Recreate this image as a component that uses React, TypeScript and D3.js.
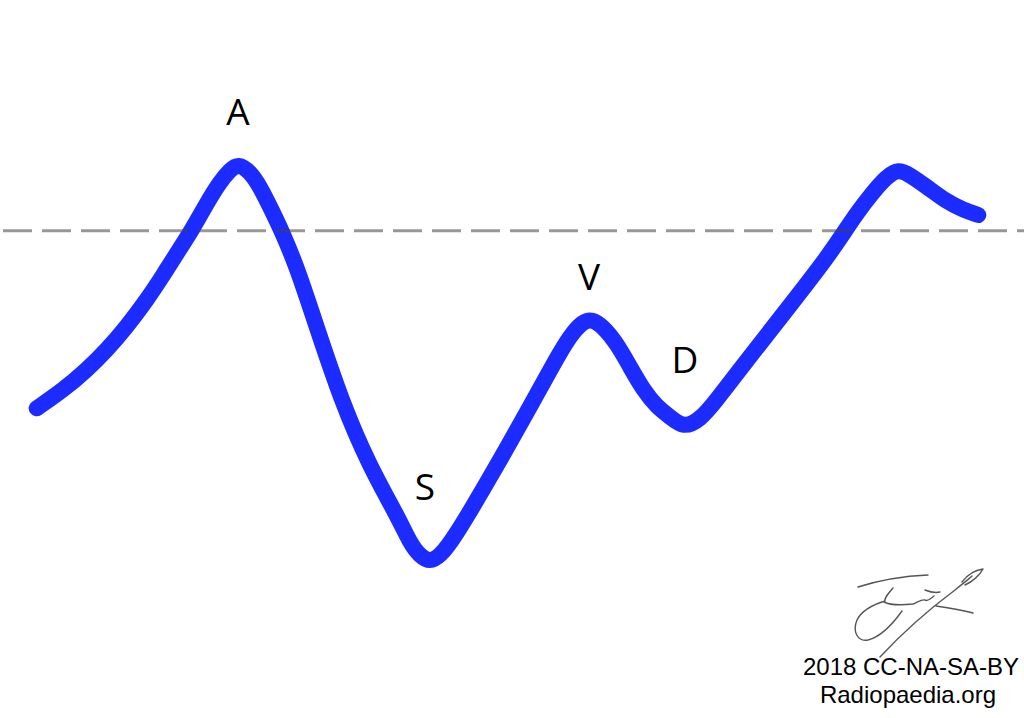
import React from "react";
import * as d3 from "d3";

const times = [3.67, 6.33, 8.67, 10.67, 12.67, 14.67, 16.33, 18, 19.17, 20.67, 22, 23, 23.83, 25, 26, 27, 28.17, 29.67, 31.33, 34.2, 37, 39.8, 41, 42, 43, 44, 45.3, 48.7, 53, 56.1, 57.33, 58.33, 59.17, 60.33, 61.67, 63, 64.33, 65.67, 67, 68.33, 70, 71.67, 73.67, 79.67, 82.67, 84.3, 85.67, 87.33, 88.67, 89.83, 91, 92.67, 94.67, 96.33, 97.83];
const pressures = [38.34, 42, 46, 50, 54.66, 60, 65, 70.34, 73.9, 79.34, 83.66, 86, 87.3, 85.66, 82.66, 78.66, 73.86, 66.66, 56.66, 39.4, 26.6, 16.6, 11.4, 8.8, 7.6, 8.8, 12, 23.4, 38.6, 50, 53.66, 55.66, 56.2, 54.66, 51.34, 46.66, 42, 38.66, 36.66, 34.4, 36, 40, 45.34, 60.6, 68.4, 73.2, 77.34, 81.66, 84.66, 86.2, 85, 82.66, 79.66, 78, 77];
const baseline = 73.86;
const waveLabels = ["A", "S", "V", "D"];
const labelTimes = [23.8, 42.5, 58.9, 68.5];
const labelPressures = [95, 20, 62, 45.4];
const creditLines = ["2018 CC-NA-SA-BY", "Radiopaedia.org"];

export default function App() {
  const W = 1024, H = 718;
  const x = d3.scaleLinear().domain([0, 100]).range([0, 1000]);
  const y = d3.scaleLinear().domain([0, 100]).range([600, 100]);
  const pts = times.map((t, i) => [t, pressures[i]] as [number, number]);
  const line = d3.line<[number, number]>().x(d => x(d[0])).y(d => y(d[1])).curve(d3.curveBasis);
  return (
    <svg width={W} height={H} style={{ position: "absolute", left: 0, top: 0, background: "#fff" }}>
      <rect width={W} height={H} fill="#fff" />
      <path d={line(pts) || ""} fill="none" stroke="#1c2bff" strokeWidth={16} strokeLinecap="round" strokeLinejoin="round" />
      <line x1={3} x2={W} y1={y(baseline)} y2={y(baseline)} stroke="#444" strokeOpacity={0.55} strokeWidth={3} strokeDasharray="29 10" />
      {waveLabels.map((l, i) => (
        <text key={l} x={x(labelTimes[i])} y={y(labelPressures[i])} textAnchor="middle" fontFamily="Open Sans, sans-serif" fontSize={37} fill="#000">{l}</text>
      ))}
      <g fill="none" stroke="#555" strokeWidth={1.4} strokeLinecap="round" strokeLinejoin="round">
        <path d="M858,587 C880,580 905,576 928,575" />
        <path d="M893,588 C888,594 884,598 885,601 C875,604 862,610 857,620 C852,632 858,642 868,640 C880,637 892,625 902,611" />
        <path d="M884,602 C892,606 904,605 913,604 C918,602 922,599 925,600 C928,602 931,598 934,596" />
        <path d="M880,657 C905,630 935,605 955,590 C962,584 968,580 972,576" />
        <path d="M962,582 C968,574 976,570 983,569 C980,575 972,582 965,585" />
        <path d="M936,606 C950,608 962,610 973,613" />
        <path d="M925,590 C930,592 936,593 940,592" />
      </g>
      {creditLines.map((c, i) => (
        <text key={c} x={i === 0 ? 911 : 908} y={675 + i * 28} textAnchor="middle" fontFamily="Liberation Sans, Arial, sans-serif" fontSize={24} fill="#000">{c}</text>
      ))}
    </svg>
  );
}
